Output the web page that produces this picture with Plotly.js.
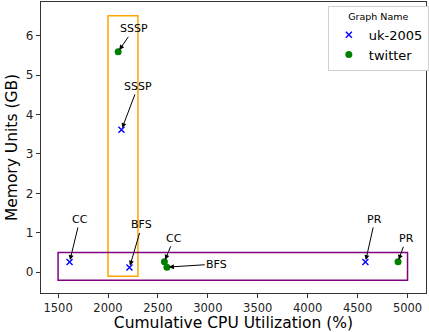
<!DOCTYPE html>
<html><head><meta charset="utf-8">
<script src="https://cdn.plot.ly/plotly-3.0.1.min.js"></script>
<style>html,body{margin:0;padding:0;overflow:hidden;background:#fff}</style>
</head><body><div id="chart" style="width:431px;height:332px"></div>
<script>
// Data
const series = ["uk-2005", "twitter"];
const algorithms = ["SSSP", "CC", "BFS", "PR"];
const ukCpu = [2135, 1615, 2215, 4578];
const ukMem = [3.61, 0.26, 0.12, 0.26];
const twCpu = [2102, 2565, 2590, 4905];
const twMem = [5.59, 0.27, 0.13, 0.27];
// annotation text positions (data coords)
const ukLabelX = [2300, 1718, 2340, 4674];
const ukLabelY = [4.71, 1.34, 1.2, 1.34];
const twLabelX = [2258, 2661, 3089, 4987];
const twLabelY = [6.17, 0.86, 0.21, 0.85];
// highlight boxes [x0, x1, y0, y1]
const boxOrange = [2000, 2300, -0.1, 6.5];
const boxPurple = [1500, 5000, -0.2, 0.5];

const font = "DejaVu Sans, sans-serif";
const traces = [
  {x: ukCpu, y: ukMem, name: series[0], type: "scatter", mode: "markers",
   marker: {symbol: "x-thin", size: 6, color: "blue", line: {color: "blue", width: 1.4}}},
  {x: twCpu, y: twMem, name: series[1], type: "scatter", mode: "markers",
   marker: {symbol: "circle", size: 7, color: "green"}}
];
const annotations = [];
function addAnn(xs, ys, lx, ly) {
  for (let i = 0; i < xs.length; i++) {
    annotations.push({x: xs[i], y: ys[i], ax: lx[i], ay: ly[i], axref: "x", ayref: "y",
      xref: "x", yref: "y", text: algorithms[i], showarrow: true, arrowhead: 2,
      arrowsize: 1, arrowwidth: 1, arrowcolor: "#000", standoff: 2,
      font: {family: font, size: 11, color: "#000"}});
  }
}
addAnn(ukCpu, ukMem, ukLabelX, ukLabelY);
addAnn(twCpu, twMem, twLabelX, twLabelY);
const shapes = [
  {type: "rect", xref: "x", yref: "y", x0: boxOrange[0], x1: boxOrange[1], y0: boxOrange[2], y1: boxOrange[3],
   line: {color: "orange", width: 1.5}},
  {type: "rect", xref: "x", yref: "y", x0: boxPurple[0], x1: boxPurple[1], y0: boxPurple[2], y1: boxPurple[3],
   line: {color: "purple", width: 1.5}}
];
const layout = {
  width: 431, height: 332,
  margin: {l: 41, r: 2, t: 2, b: 39},
  paper_bgcolor: "#fff", plot_bgcolor: "#fff",
  font: {family: font, color: "#000"},
  showlegend: true,
  legend: {title: {text: "Graph Name", font: {size: 9.5, family: font}, side: "top center"},
    x: 0.745, y: 0.985, xanchor: "left", yanchor: "top",
    bgcolor: "#fff", bordercolor: "#d0d0d0", borderwidth: 1, tracegroupgap: 0,
    font: {size: 13, family: font}, itemwidth: 30},
  xaxis: {range: [1329, 5185], showgrid: false, zeroline: false, showline: true, mirror: true,
    linecolor: "#333", linewidth: 1.2, ticks: "outside", ticklen: 3.5, tickcolor: "#333",
    tickvals: [1500, 2000, 2500, 3000, 3500, 4000, 4500, 5000],
    tickfont: {size: 11.5, family: font, color: "#222"},
    title: {text: "Cumulative CPU Utilization (%)", font: {size: 15.5, family: font}, standoff: 5}},
  yaxis: {range: [-0.525, 6.85], showgrid: false, zeroline: false, showline: true, mirror: true,
    linecolor: "#333", linewidth: 1.2, ticks: "outside", ticklen: 4, tickcolor: "#333",
    tickvals: [0, 1, 2, 3, 4, 5, 6],
    tickfont: {size: 12, family: font, color: "#222"},
    title: {text: "Memory Units (GB)", font: {size: 15.5, family: font}, standoff: 4}},
  shapes: shapes,
  annotations: annotations
};
Plotly.newPlot("chart", traces, layout, {displayModeBar: false, staticPlot: true});
</script></body></html>
